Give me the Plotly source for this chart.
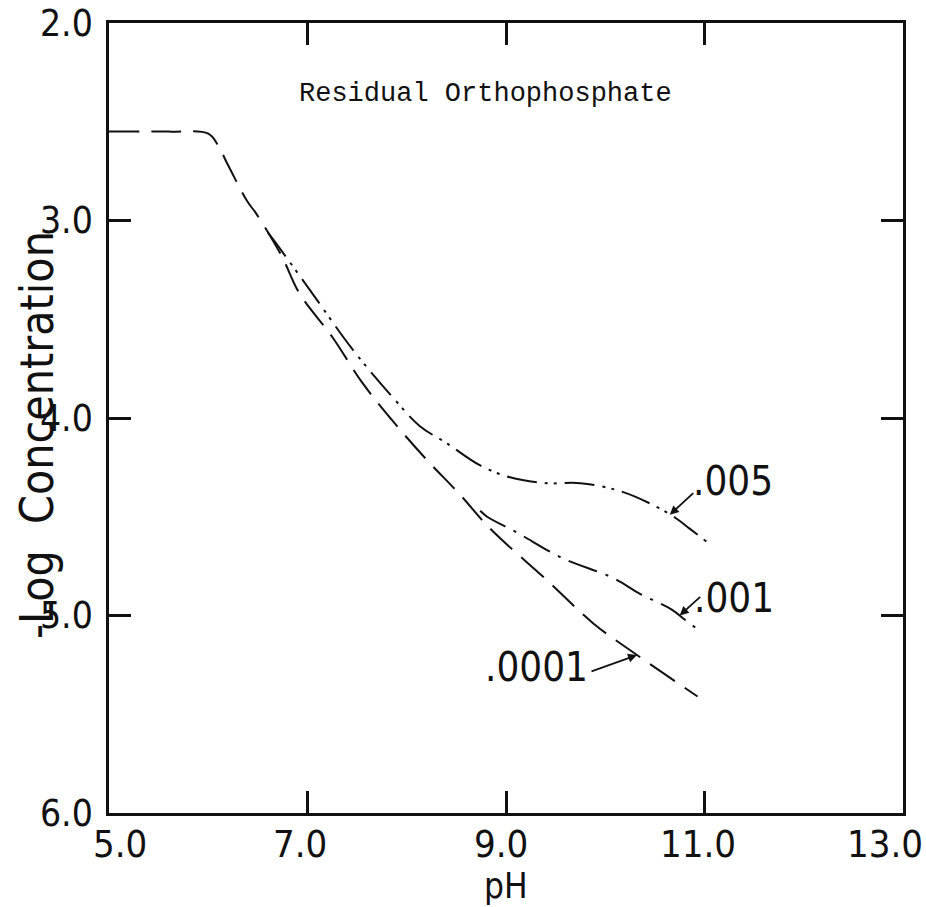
import plotly.graph_objects as go

# Residual orthophosphate (-log concentration) versus pH for three dosages
ph_0001 = [5.0, 5.6, 6.0, 6.1, 6.19, 6.39, 6.49, 6.74, 6.92, 7.25, 7.55, 7.85,
           8.18, 8.54, 8.84, 9.41, 9.88, 10.32, 10.93]
logc_0001 = [2.55, 2.55, 2.56, 2.62, 2.71, 2.90, 2.97, 3.18, 3.37, 3.59, 3.82, 4.01,
             4.20, 4.39, 4.56, 4.82, 5.04, 5.20, 5.41]

ph_001 = [8.74, 8.81, 9.11, 9.57, 10.08, 10.35, 10.67, 10.80, 10.93]
logc_001 = [4.47, 4.50, 4.58, 4.71, 4.81, 4.89, 4.97, 5.02, 5.07]

ph_005 = [6.60, 6.69, 7.05, 7.45, 7.85, 8.13, 8.41, 8.74, 9.04, 9.41, 9.75,
          10.15, 10.48, 10.72, 10.85, 11.03]
logc_005 = [3.06, 3.12, 3.37, 3.65, 3.89, 4.04, 4.13, 4.24, 4.30, 4.33, 4.33,
            4.37, 4.44, 4.51, 4.56, 4.63]

x_ticks = [5.0, 7.0, 9.0, 11.0, 13.0]
x_ticktext = ["5.0", "7.0", "9.0", "11.0", "13.0"]
y_ticks = [2.0, 3.0, 4.0, 5.0, 6.0]
y_ticktext = ["2.0", "3.0", "4.0", "5.0", "6.0"]

INK = "#111111"
SANS = "Liberation Sans Narrow, DejaVu Sans Condensed, Arial Narrow, sans-serif"
MONO = "Liberation Mono, Courier New, DejaVu Sans Mono, monospace"

fig = go.Figure()
fig.add_trace(go.Scatter(x=ph_0001, y=logc_0001, mode="lines", name=".0001",
                         line=dict(color=INK, width=2, dash="30px,12px", shape="spline")))
fig.add_trace(go.Scatter(x=ph_001, y=logc_001, mode="lines", name=".001",
                         line=dict(color=INK, width=2, dash="30px,9px,3px,9px", shape="spline")))
fig.add_trace(go.Scatter(x=ph_005, y=logc_005, mode="lines", name=".005",
                         line=dict(color=INK, width=2, dash="30px,8px,3px,6px,3px,8px",
                                   shape="spline")))

axis_common = dict(
    showline=True, linecolor=INK, linewidth=2.5, mirror="allticks",
    ticks="inside", ticklen=22, tickwidth=2.5, tickcolor=INK,
    showgrid=False, zeroline=False, automargin=False,
)

# x tick labels are placed as annotations so the end labels can sit inside the page
fig.update_xaxes(range=[5.0, 13.0], tickvals=x_ticks, showticklabels=False, **axis_common)
fig.update_yaxes(range=[6.0, 2.0], tickvals=y_ticks, ticktext=y_ticktext,
                 ticklabelstandoff=6,
                 tickfont=dict(family=SANS, size=37, color=INK), **axis_common)

x_label_shift = [11, -8, -5, -7, -18]
annotations = [
    dict(text=t, x=v, y=0, xref="x", yref="paper", yanchor="top", xanchor="center",
         xshift=s, yshift=-8, borderpad=0, showarrow=False,
         font=dict(family=SANS, size=38, color=INK))
    for v, t, s in zip(x_ticks, x_ticktext, x_label_shift)
]

annotations += [
    dict(text="Residual Orthophosphate", x=8.79, y=2.36, xref="x", yref="y",
         showarrow=False, font=dict(family=MONO, size=27, color=INK)),
    dict(text="pH", x=0.5, y=-94 / 790, xref="paper", yref="paper",
         xanchor="center", yanchor="bottom", borderpad=0,
         showarrow=False, font=dict(family=SANS, size=35, color=INK)),
    dict(text="-Log  Concentration", x=-0.09, y=0.478, xref="paper", yref="paper",
         xanchor="center", yanchor="middle",
         textangle=-90, showarrow=False, font=dict(family=SANS, size=46, color=INK)),
    dict(text=".005", x=11.29, y=4.32, xref="x", yref="y", showarrow=False,
         font=dict(family=SANS, size=40, color=INK)),
    dict(text=".001", x=11.30, y=4.91, xref="x", yref="y", showarrow=False,
         font=dict(family=SANS, size=40, color=INK)),
    dict(text=".0001", x=9.31, y=5.26, xref="x", yref="y", showarrow=False,
         font=dict(family=SANS, size=40, color=INK)),
    # pointers from the labels to their curves
    dict(text="", x=10.65, y=4.49, xref="x", yref="y", showarrow=True,
         ax=25, ay=-23, arrowhead=2, arrowsize=1, arrowwidth=1.8, arrowcolor=INK),
    dict(text="", x=10.75, y=5.00, xref="x", yref="y", showarrow=True,
         ax=22, ay=-20, arrowhead=2, arrowsize=1, arrowwidth=1.8, arrowcolor=INK),
    dict(text="", x=10.32, y=5.20, xref="x", yref="y", showarrow=True,
         ax=-47, ay=17, arrowhead=2, arrowsize=1, arrowwidth=1.8, arrowcolor=INK),
]

fig.update_layout(
    width=926, height=907,
    margin=dict(l=109, r=23, t=23, b=94),
    paper_bgcolor="white", plot_bgcolor="white",
    showlegend=False,
    annotations=annotations,
)

fig.write_html("out.html")
